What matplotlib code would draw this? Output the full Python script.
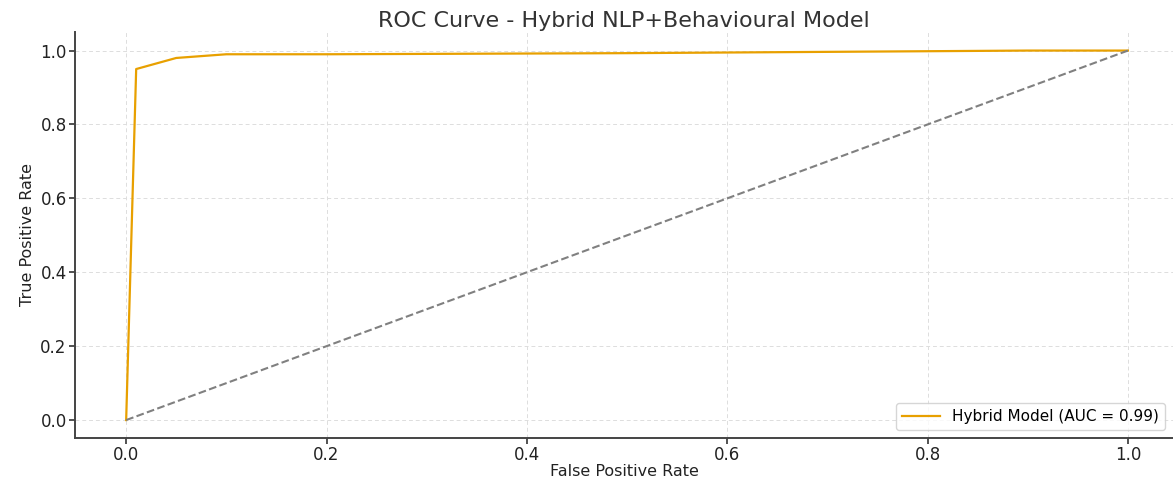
import matplotlib
matplotlib.use("Agg")
import matplotlib.pyplot as plt

# ROC points
fpr = [0.0, 0.01, 0.05, 0.1, 0.2, 0.5, 0.9, 1.0]
tpr = [0.0, 0.95, 0.98, 0.99, 0.99, 0.993, 1.0, 1.0]
auc_label = "Hybrid Model (AUC = 0.99)"
chance = [0.0, 1.0]

fig, ax = plt.subplots(figsize=(11.73, 4.79), dpi=100)
fig.subplots_adjust(left=0.064, right=1.0, top=0.933, bottom=0.086)

ax.plot(fpr, tpr, color="#E8A000", lw=1.6, label=auc_label)
ax.plot(chance, chance, color="gray", lw=1.5, linestyle="--")

ax.set_xlim(-0.051, 1.045)
ax.set_ylim(-0.048, 1.05)
ax.set_xticks([0.0, 0.2, 0.4, 0.6, 0.8, 1.0])
ax.set_yticks([0.0, 0.2, 0.4, 0.6, 0.8, 1.0])

ax.grid(True, linestyle=(0, (4, 3)), color="#dddddd", lw=0.7)
ax.spines["top"].set_visible(False)
ax.spines["right"].set_visible(False)
for s in ("left", "bottom"):
    ax.spines[s].set_color("#444444")
    ax.spines[s].set_linewidth(1.4)
ax.tick_params(colors="#222222", labelsize=12, length=4, width=1.1, pad=2)

ax.set_title("ROC Curve - Hybrid NLP+Behavioural Model", fontsize=16, color="#333333", pad=4)
ax.set_xlabel("False Positive Rate", fontsize=11.5, color="#222222", labelpad=0)
ax.set_ylabel("True Positive Rate", fontsize=11.5, color="#222222")
ax.legend(loc="lower right", fontsize=11, frameon=True, handlelength=2.5)

fig.savefig("out.png", dpi=100)
